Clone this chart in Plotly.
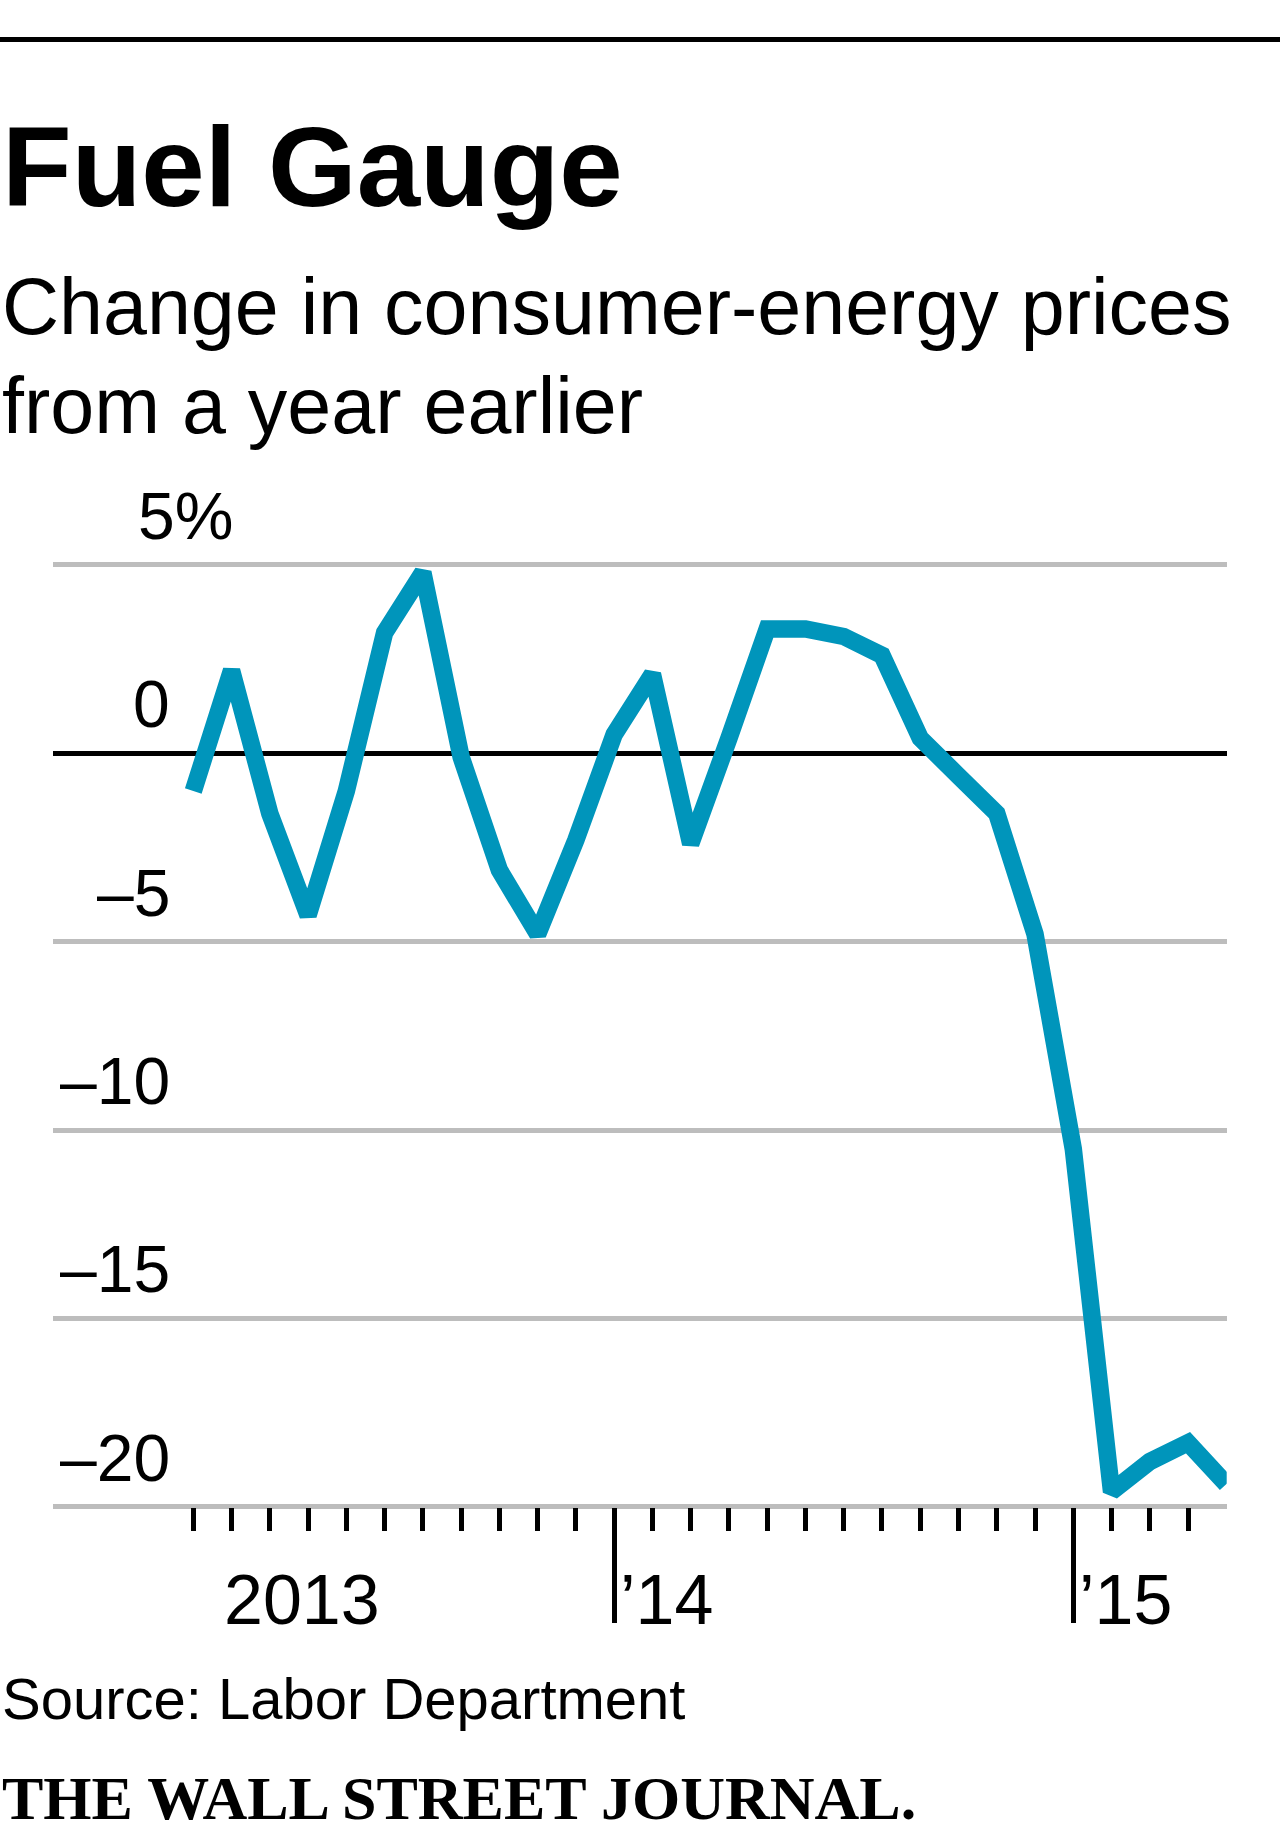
import plotly.graph_objects as go

# ---- data -------------------------------------------------------------
months = ["Jan 2013", "Feb 2013", "Mar 2013", "Apr 2013", "May 2013", "Jun 2013",
          "Jul 2013", "Aug 2013", "Sep 2013", "Oct 2013", "Nov 2013", "Dec 2013",
          "Jan 2014", "Feb 2014", "Mar 2014", "Apr 2014", "May 2014", "Jun 2014",
          "Jul 2014", "Aug 2014", "Sep 2014", "Oct 2014", "Nov 2014", "Dec 2014",
          "Jan 2015", "Feb 2015", "Mar 2015", "Apr 2015"]
energy_change = [-1.0, 2.2, -1.6, -4.3, -1.0, 3.2, 4.8, -0.1, -3.1, -4.8, -2.3, 0.5,
                 2.1, -2.4, 0.4, 3.3, 3.3, 3.1, 2.6, 0.4, -0.6, -1.6, -4.8, -10.5,
                 -19.6, -18.8, -18.3, -19.4]

y_tick_vals = [5, 0, -5, -10, -15, -20]
y_tick_labels = ["5%", "0", "\u20135", "\u201310", "\u201315", "\u201320"]
month_tick_vals = list(range(27))
year_tick_vals = [11, 23]
year_labels = ["2013", "\u201914", "\u201915"]
year_label_x = [0.74, 11.1, 23.1]

# ---- geometry helpers (pixels of a 1280x1836 page) ----------------------
W, H = 1280, 1836
def py(px):
    return 1 - px / H

SANS = "Liberation Sans, Arial, sans-serif"
SERIF = "Liberation Serif, Times New Roman, serif"
TEAL = "#0095bb"
ASC = 0.905

x_idx = list(range(len(months)))

fig = go.Figure()
fig.add_trace(go.Scatter(
    x=x_idx, y=energy_change, mode="lines",
    line=dict(color=TEAL, width=17.5),
    hoverinfo="skip", showlegend=False,
    text=months,
))

fig.update_layout(
    width=W, height=H, autosize=False,
    margin=dict(l=0, r=0, t=0, b=0, pad=0),
    paper_bgcolor="white", plot_bgcolor="white",
    showlegend=False,
    xaxis=dict(
        domain=[53 / W, 1226.7 / W],
        range=[-3.667, 27.01],
        anchor="free", position=py(1507),
        showgrid=False, zeroline=False, showline=False,
        tickmode="array", tickvals=year_tick_vals,
        ticks="outside", ticklen=115, tickwidth=4.5, tickcolor="black",
        showticklabels=False,
        minor=dict(tickmode="array", tickvals=month_tick_vals, ticks="outside",
                   ticklen=23, tickwidth=4.5, tickcolor="black", showgrid=False),
    ),
    yaxis=dict(
        domain=[py(1525.6), py(546.1)],
        range=[-20.5, 5.5],
        tickmode="array", tickvals=[v for v in y_tick_vals if v != 0],
        showticklabels=False, ticks="",
        showgrid=True, gridcolor="#bdbdbd", gridwidth=4.5,
        zeroline=True, zerolinecolor="black", zerolinewidth=5,
        showline=False,
    ),
)

def top_text(text, px_baseline, size, family=SANS, asc=ASC, x=0):
    return dict(text=text, x=x, y=py(px_baseline - asc * size - 1),
                xref="paper", yref="paper", xanchor="left", yanchor="top",
                showarrow=False, font=dict(family=family, size=size, color="black"))

anns = []
# title + subtitle
anns.append(top_text("<b>Fuel Gauge</b>", 205, 114))
anns.append(top_text("Change in consumer-energy prices", 332, 79))
anns.append(top_text("from a year earlier", 431, 79))

# y labels
YFS = 66
for v, lab in zip(y_tick_vals, y_tick_labels):
    if lab.endswith("%"):
        anns.append(dict(text=lab, x=136 / W, xref="paper", xanchor="left",
                         y=v, yref="y", yanchor="bottom", yshift=10,
                         showarrow=False, font=dict(family=SANS, size=YFS, color="black")))
    else:
        anns.append(dict(text=lab, x=172 / W, xref="paper", xanchor="right",
                         y=v, yref="y", yanchor="bottom", yshift=10,
                         showarrow=False, font=dict(family=SANS, size=YFS, color="black")))

# x labels
XFS = 70
for xl, lab in zip(year_label_x, year_labels):
    anns.append(dict(text=lab, x=xl, xref="x", xanchor="left",
                     y=py(1623 - ASC * XFS - 1), yref="paper", yanchor="top",
                     showarrow=False, font=dict(family=SANS, size=XFS, color="black")))

# footer
anns.append(top_text("Source: Labor Department", 1717, 58))
anns.append(top_text("<b>THE WALL STREET JOURNAL.</b>", 1818, 62, family=SERIF, asc=0.891))

fig.update_layout(annotations=anns)

# top rule
fig.add_shape(type="line", xref="paper", yref="paper", x0=0, x1=1,
              y0=py(39.5), y1=py(39.5), line=dict(color="black", width=5))

fig.write_html("out.html", config={"displayModeBar": False},
               post_script="document.body.style.margin='0';document.body.style.overflow='hidden';")
